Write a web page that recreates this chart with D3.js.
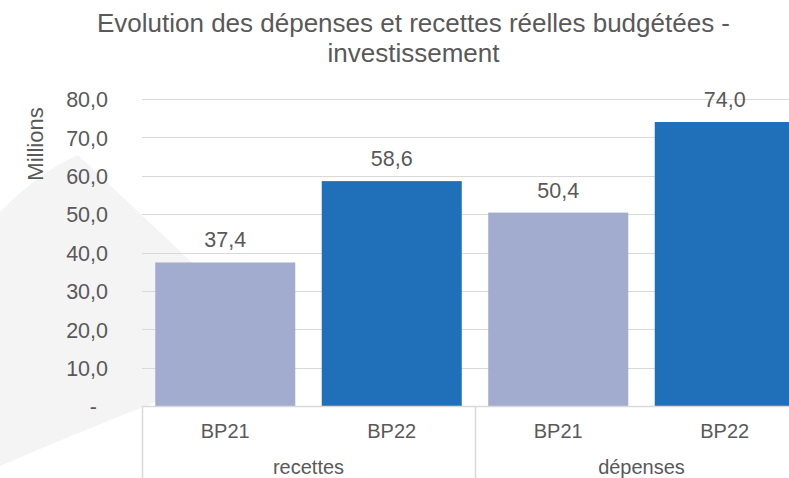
<!DOCTYPE html>
<html>
<head>
<meta charset="utf-8">
<script src="https://cdn.jsdelivr.net/npm/d3@7"></script>
<style>
  body { margin: 0; background: #fff; }
  svg text { font-family: "Liberation Sans", Arial, sans-serif; fill: #595959; }
</style>
</head>
<body>
<div id="chart"></div>
<script>
const groups = ["recettes", "dépenses"]
const series = ["BP21", "BP22"]
const bp21 = [37.4, 50.4]
const bp22 = [58.6, 74.0]
const yTicks = [0, 10, 20, 30, 40, 50, 60, 70, 80]
const titleLines = ["Evolution des dépenses et recettes réelles budgétées -", "investissement"]
const colors = { BP21: "#a2accf", BP22: "#1f70b8" }

const width = 789, height = 478
const plot = { left: 142, right: 808, top: 99, bottom: 406 }

const fr = d3.formatLocale({ decimal: ",", thousands: " ", grouping: [3], currency: ["", " €"] })
const fmt = fr.format(".1f")

const rows = groups.map((g, i) => ({ group: g, values: [
  { key: "BP21", value: bp21[i] },
  { key: "BP22", value: bp22[i] }
] }))

const svg = d3.select("#chart").append("svg")
  .attr("width", width)
  .attr("height", height)

// faint background shape
svg.append("path")
  .attr("d", "M0,212 Q39,172 78,155 L288,353 Q140,405 0,466 Z")
  .attr("fill", "#f4f4f4")

const x0 = d3.scaleBand().domain(groups).range([plot.left, plot.right])
const x1 = d3.scaleBand().domain(series).range([0, x0.bandwidth()])
  .paddingInner(0.159).paddingOuter(0.0795)
const y = d3.scaleLinear().domain([0, 80]).range([plot.bottom, plot.top])

// gridlines
svg.append("g")
  .selectAll("line")
  .data(yTicks.filter(d => d > 0))
  .join("line")
  .attr("x1", plot.left).attr("x2", width)
  .attr("y1", d => Math.round(y(d)) + 0.5).attr("y2", d => Math.round(y(d)) + 0.5)
  .attr("stroke", "#d9d9d9")
  .attr("stroke-width", 1)

// y axis
const yAxis = svg.append("g")
  .attr("transform", `translate(108,0)`)
  .call(d3.axisLeft(y).tickValues(yTicks).tickSize(0).tickPadding(0)
    .tickFormat(d => d === 0 ? "-" : fmt(d)))
yAxis.select(".domain").remove()
yAxis.selectAll("text")
  .attr("font-size", 21.5)
  .attr("font-family", null)
  .attr("x", d => d === 0 ? -11 : 0)
  .attr("dy", "0.36em")

svg.append("text")
  .attr("transform", "translate(43,144) rotate(-90)")
  .attr("text-anchor", "middle")
  .attr("font-size", 22)
  .text("Millions")

// bars
const g = svg.append("g")
  .selectAll("g")
  .data(rows)
  .join("g")
  .attr("transform", d => `translate(${x0(d.group)},0)`)

g.selectAll("rect")
  .data(d => d.values)
  .join("rect")
  .attr("x", d => x1(d.key))
  .attr("width", x1.bandwidth())
  .attr("y", d => y(d.value))
  .attr("height", d => y(0) - y(d.value))
  .attr("fill", d => colors[d.key])

g.selectAll(".lbl")
  .data(d => d.values)
  .join("text")
  .attr("class", "lbl")
  .attr("x", d => x1(d.key) + x1.bandwidth() / 2)
  .attr("y", d => y(d.value) - 15)
  .attr("text-anchor", "middle")
  .attr("font-size", 21.5)
  .text(d => fmt(d.value))

// x axis: baseline and group separators
const axisColor = "#d9d9d9"
svg.append("line")
  .attr("x1", plot.left).attr("x2", width)
  .attr("y1", y(0) + 0.5).attr("y2", y(0) + 0.5)
  .attr("stroke", axisColor).attr("stroke-width", 1.5)

svg.append("g")
  .selectAll("line")
  .data(groups.map(d => x0(d)).concat([plot.right]))
  .join("line")
  .attr("x1", d => d + 0.5).attr("x2", d => d + 0.5)
  .attr("y1", y(0)).attr("y2", height)
  .attr("stroke", axisColor).attr("stroke-width", 1.5)

g.selectAll(".cat")
  .data(d => d.values)
  .join("text")
  .attr("class", "cat")
  .attr("x", d => x1(d.key) + x1.bandwidth() / 2)
  .attr("y", 438)
  .attr("text-anchor", "middle")
  .attr("font-size", 20)
  .text(d => d.key)

g.append("text")
  .attr("x", x0.bandwidth() / 2)
  .attr("y", 474)
  .attr("text-anchor", "middle")
  .attr("font-size", 20)
  .text(d => d.group)

// title
svg.append("g")
  .selectAll("text")
  .data(titleLines)
  .join("text")
  .attr("x", 413.5)
  .attr("y", (d, i) => 32 + i * 30)
  .attr("text-anchor", "middle")
  .attr("font-size", 26)
  .text(d => d)
</script>
</body>
</html>
